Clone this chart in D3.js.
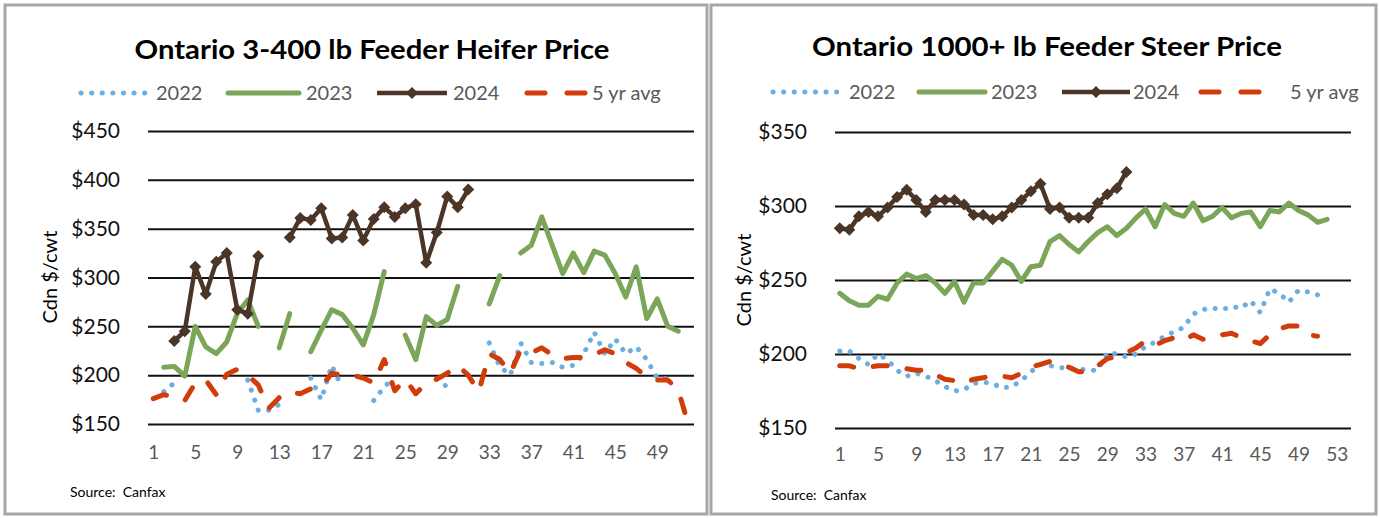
<!DOCTYPE html>
<html>
<head>
<meta charset="utf-8">
<script src="https://cdn.jsdelivr.net/npm/d3@7"></script>
<style>
  body { margin: 0; background: #fff; }
  svg text { font-family: Lato, "Open Sans", sans-serif; }
</style>
</head>
<body>
<svg id="chart" width="1380" height="518"></svg>
<script>
// ---- Ontario 3-400 lb Feeder Heifer (weeks 1..52) ----
const heiferWeeks = d3.range(1, 53);
const heiferXTicks = [1, 5, 9, 13, 17, 21, 25, 29, 33, 37, 41, 45, 49];
const heiferYTicks = [150, 200, 250, 300, 350, 400, 450];

const heifer2022 = [null, 183, 192, null, null, null, null, null, null, 195,
  164, 164, 170, null, null, 197, 175, 210, 187, null,
  null, 174, 188, 198, null, null, null, 196, 188, null,
  null, null, 233, 209, 200, 233, 213, 212, 213, 208,
  210, 222, 244, 222, 237, 222, 229, 216, 197, 196,
  null, null];
const heifer2023 = [null, 208, 209, 199, 250, 229, 222, 234, 263, 277,
  250, null, 228, 263, null, 224, 246, 267, 262, 248,
  231, 262, 306, null, 241, 216, 260, 251, 257, 291,
  null, null, 273, 302, null, 325, 333, 362, 333, 304,
  325, 305, 327, 323, 304, 280, 311, 258, 278, 250,
  245, null];
const heifer2024 = [null, null, 235, 245, 311, 283, 316, 325, 267, 263,
  322, null, null, 341, 361, 359, 371, 340, 341, 364,
  338, 360, 372, 362, 371, 375, 315, 346, 383, 372,
  390];
const heiferAvg = [176, 180, 178, 174, 192, 195, 180, 201, 206, 200,
  190, 166, 177, 183, 181, 186, 188, 202, 200, 200,
  197, 192, 216, 184, 196, 181, 192, 196, 202, 210,
  200, 183, 222, 216, 202, 226, 223, 228, 221, 217,
  218, 218, 221, 226, 222, 213, 207, 198, 195, 195,
  185, 148];

// ---- Ontario 1000+ lb Feeder Steer (weeks 1..54) ----
const steerWeeks = d3.range(1, 55);
const steerXTicks = [1, 5, 9, 13, 17, 21, 25, 29, 33, 37, 41, 45, 49, 53];
const steerYTicks = [150, 200, 250, 300, 350];

const steer2022 = [202, 202, 197, 193, 200, 196, 189, 185, 187, 185,
  182, 178, 175, 176, 180, 181, 180, 177, 178, 182,
  188, 193, 192, 191, 190, 190, 189, 189, 201, 200,
  198, 200, 205, 208, 212, 215, 218, 227, 230, 231,
  230, 232, 231, 236, 228, 244, 241, 235, 243, 242,
  240];
const steer2023 = [241, 236, 233, 233, 239, 237, 248, 254, 251, 253,
  248, 241, 249, 235, 248, 248, 256, 264, 260, 249,
  259, 260, 276, 280, 274, 269, 276, 282, 286, 280,
  285, 292, 298, 286, 301, 295, 293, 302, 290, 293,
  299, 292, 295, 296, 286, 297, 296, 302, 297, 294,
  289, 291];
const steer2024 = [285, 284, 293, 296, 293, 299, 306, 311, 304, 296,
  304, 304, 304, 301, 294, 294, 291, 293, 299, 304,
  310, 315, 298, 299, 292, 292, 292, 302, 308, 312,
  323];
const steerAvg = [192, 192, 190, 191, 192, 192, 191, 190, 189, 189,
  186, 183, 182, 180, 183, 184, 185, 185, 184, 187,
  191, 193, 195, 193, 191, 188, 188, 192, 197, 198,
  201, 204, 209, 206, 209, 211, 209, 213, 210, 211,
  213, 214, 211, 209, 207, 213, 217, 219, 219, 213,
  212];

const legendLabels = ["2022", "2023", "2024", "5 yr avg"];

const colors = { y2022: "#6BAEE2", y2023: "#7BA65A", y2024: "#4A3527", avg: "#D23C0B" };

const styles = [
  { color: colors.y2022, width: 5, dash: "0.1,10.5", cap: "round", marker: false },
  { color: colors.y2023, width: 5, dash: null, cap: "round", marker: false },
  { color: colors.y2024, width: 4.5, dash: null, cap: "butt", marker: true },
  { color: colors.avg, width: 5, dash: "14,20", cap: "round", marker: false }
];

const svg = d3.select("#chart");

function drawPanel(o) {
  const g = svg.append("g");

  g.append("rect")
    .attr("x", o.box[0]).attr("y", o.box[1])
    .attr("width", o.box[2]).attr("height", o.box[3])
    .attr("fill", "#fff").attr("stroke", "#A6A6A6").attr("stroke-width", 3);

  g.append("text")
    .attr("x", o.titleX).attr("y", o.titleY)
    .attr("text-anchor", "middle")
    .attr("font-size", 26).attr("font-weight", 700).attr("fill", "#000")
    .attr("textLength", o.titleW).attr("lengthAdjust", "spacingAndGlyphs")
    .text(o.title);

  const x = d3.scalePoint().domain(o.weeks).range([o.left, o.right]).padding(0.5);
  const y = d3.scaleLinear().domain([o.yTicks[0], o.yTicks[o.yTicks.length - 1]]).range([o.bottom, o.top]);

  // gridlines + y labels
  g.append("g")
    .attr("transform", `translate(${o.left},0)`)
    .call(d3.axisLeft(y).tickValues(o.yTicks).tickSize(-(o.right - o.left)).tickPadding(28).tickFormat(d => "$" + d))
    .call(a => a.select(".domain").remove())
    .call(a => a.selectAll("line").attr("stroke", "#111").attr("stroke-width", 2))
    .call(a => a.selectAll("text").attr("font-size", 21).attr("fill", "#111")
      .attr("font-family", "Lato, sans-serif"));

  // x labels
  g.append("g")
    .attr("transform", `translate(0,${o.bottom})`)
    .call(d3.axisBottom(x).tickValues(o.xTicks).tickSize(0).tickPadding(o.xPad))
    .call(a => a.select(".domain").remove())
    .call(a => a.selectAll("text").attr("font-size", 19).attr("fill", "#595959")
      .attr("font-family", "Lato, sans-serif"));

  // y axis title
  g.append("text")
    .attr("transform", `translate(${o.yTitleX},${o.yTitleY}) rotate(-90)`)
    .attr("text-anchor", "middle").attr("dy", "0.35em")
    .attr("font-size", 20).attr("fill", "#000")
    .text("Cdn $/cwt");

  // draw order: 2022, 2023, avg, then 2024 on top
  const order = [0, 1, 3, 2];
  order.forEach(k => {
    const data = o.series[k];
    const st = styles[k];
    const line = d3.line()
      .defined(d => d != null)
      .x((d, i) => x(o.weeks[i]))
      .y(d => y(d));
    g.append("path")
      .attr("d", line(data))
      .attr("fill", "none")
      .attr("stroke", st.color)
      .attr("stroke-width", st.width)
      .attr("stroke-linejoin", "round")
      .attr("stroke-linecap", st.cap)
      .attr("stroke-dasharray", st.dash);
    if (st.marker) {
      g.selectAll(null)
        .data(data.map((v, i) => ({ v, w: o.weeks[i] })).filter(d => d.v != null))
        .join("path")
        .attr("d", d3.symbol(d3.symbolSquare, 72))
        .attr("transform", d => `translate(${x(d.w)},${y(d.v)}) rotate(45)`)
        .attr("fill", st.color);
    }
  });

  // legend
  o.legend.forEach((it, k) => {
    const st = styles[k];
    const lg = g.append("g");
    lg.append("line")
      .attr("x1", it.x1).attr("x2", it.x2).attr("y1", o.legendY).attr("y2", o.legendY)
      .attr("stroke", st.color).attr("stroke-width", st.width)
      .attr("stroke-linecap", st.cap)
      .attr("stroke-dasharray", k === 3 ? "18,22" : st.dash);
    if (st.marker) {
      lg.append("path")
        .attr("d", d3.symbol(d3.symbolSquare, 72))
        .attr("transform", `translate(${(it.x1 + it.x2) / 2},${o.legendY}) rotate(45)`)
        .attr("fill", st.color);
    }
    lg.append("text")
      .attr("x", it.tx).attr("y", o.legendY).attr("dy", "0.35em")
      .attr("font-size", 20).attr("fill", "#595959")
      .text(legendLabels[k]);
  });

  g.append("text")
    .attr("x", o.srcX).attr("y", o.srcY)
    .attr("font-size", 14).attr("fill", "#000")
    .text("Source:\u00a0 Canfax");
}

drawPanel({
  box: [5, 5, 702, 509],
  title: "Ontario 3-400 lb Feeder Heifer Price", titleX: 372, titleY: 59, titleW: 475,
  weeks: heiferWeeks, xTicks: heiferXTicks, yTicks: heiferYTicks,
  left: 148, right: 694, top: 131, bottom: 424, xPad: 22,
  yTitleX: 50, yTitleY: 277,
  series: [heifer2022, heifer2023, heifer2024, heiferAvg],
  legendY: 93,
  legend: [
    { x1: 81, x2: 145, tx: 156 },
    { x1: 228, x2: 299, tx: 306 },
    { x1: 377, x2: 447, tx: 453 },
    { x1: 527, x2: 589, tx: 592 }
  ],
  srcX: 70, srcY: 497
});

drawPanel({
  box: [711, 5, 665, 509],
  title: "Ontario 1000+ lb Feeder Steer Price", titleX: 1047, titleY: 56, titleW: 470,
  weeks: steerWeeks, xTicks: steerXTicks, yTicks: steerYTicks,
  left: 835, right: 1351, top: 132, bottom: 428, xPad: 20,
  yTitleX: 744, yTitleY: 280,
  series: [steer2022, steer2023, steer2024, steerAvg],
  legendY: 92,
  legend: [
    { x1: 773, x2: 838, tx: 849 },
    { x1: 919, x2: 985, tx: 991 },
    { x1: 1062, x2: 1130, tx: 1133 },
    { x1: 1201, x2: 1265, tx: 1290 }
  ],
  srcX: 771, srcY: 500
});
</script>
</body>
</html>
